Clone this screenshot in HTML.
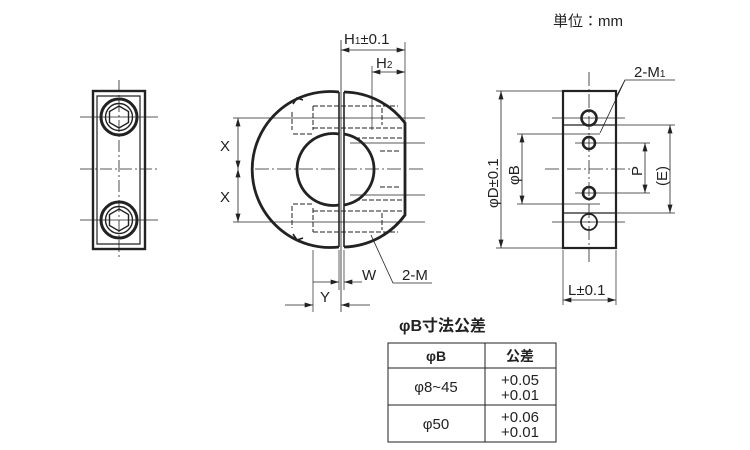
<!DOCTYPE html>
<html><head><meta charset="utf-8"><style>
html,body{margin:0;padding:0;background:#fff;}
svg{display:block;}
text{font-family:"Liberation Sans","Noto Sans CJK JP",sans-serif;fill:#222;}
</style></head><body>
<svg width="750" height="450" viewBox="0 0 750 450" xmlns="http://www.w3.org/2000/svg">
<defs>
<marker id="a" viewBox="0 0 10 6" refX="10" refY="3" markerWidth="9" markerHeight="5" orient="auto-start-reverse" markerUnits="userSpaceOnUse"><path d="M0,0L10,3L0,6z" fill="#222"/></marker>
</defs>
<text x="553" y="26" font-size="15">単位：mm</text>

<!-- LEFT VIEW -->
<g stroke="#222" fill="none">
<line x1="80" y1="169" x2="158" y2="169" stroke-width="0.8" stroke-dasharray="12,3,2,3"/>
<line x1="119" y1="80" x2="119" y2="260" stroke-width="0.8" stroke-dasharray="12,3,2,3"/>
<line x1="80" y1="117" x2="158" y2="117" stroke-width="0.7"/>
<line x1="80" y1="220" x2="158" y2="220" stroke-width="0.7"/>
<rect x="93" y="91" width="52" height="158" stroke-width="2.4"/>
<path d="M97,244 V96 H140 V244 Z" stroke-width="1.2"/>
<circle cx="119" cy="117" r="18" stroke-width="3"/>
<circle cx="119" cy="117" r="13.5" stroke-width="1.4"/>
<polygon points="119,106 128.5,111.5 128.5,122.5 119,128 109.5,122.5 109.5,111.5" stroke-width="1.4"/>
<circle cx="119" cy="220" r="18" stroke-width="3"/>
<circle cx="119" cy="220" r="13.5" stroke-width="1.4"/>
<polygon points="119,209 128.5,214.5 128.5,225.5 119,231 109.5,225.5 109.5,214.5" stroke-width="1.4"/>
</g>

<!-- MIDDLE VIEW -->
<g stroke="#222" fill="none">
<line x1="255" y1="169" x2="425" y2="169" stroke-width="0.8" stroke-dasharray="14,3,2,3"/>
<line x1="341" y1="40" x2="341" y2="312" stroke-width="0.8"/>
<line x1="405" y1="42" x2="405" y2="122" stroke-width="0.7"/>
<line x1="372" y1="66" x2="372" y2="130" stroke-width="0.7"/>
<line x1="233" y1="118" x2="425" y2="118" stroke-width="0.7"/>
<line x1="233" y1="222" x2="425" y2="222" stroke-width="0.7"/>
<line x1="350" y1="143" x2="425" y2="143" stroke-width="0.7"/>
<line x1="350" y1="195" x2="425" y2="195" stroke-width="0.7"/>
<path d="M339,92 A78,78 0 1,0 339,247" stroke-width="2.8"/>
<path d="M344,92 A78,78 0 0,1 405,123 L405,215 A78,78 0 0,1 344,247" stroke-width="2.8"/>
<line x1="339" y1="92" x2="339" y2="247" stroke-width="1.6"/>
<line x1="344" y1="92" x2="344" y2="247" stroke-width="1.6"/>
<path d="M339,134 A36,36 0 1,0 339,205" stroke-width="2.8"/>
<path d="M344,134 A36,36 0 0,1 344,205" stroke-width="2.8"/>
<path d="M293,104 L297,98 L303,100" stroke-width="1.6"/>
<path d="M293,234 L297,240 L303,238" stroke-width="1.6"/>
<g stroke-width="1" stroke-dasharray="5,2">
<line x1="313" y1="106" x2="398" y2="106"/>
<line x1="313" y1="128" x2="403" y2="128"/>
<line x1="292" y1="112" x2="292" y2="130"/>
<line x1="313" y1="106" x2="313" y2="130"/>
<line x1="293" y1="134" x2="313" y2="134"/>
<line x1="355" y1="138" x2="405" y2="138"/>
<line x1="380" y1="151" x2="400" y2="151"/>
<line x1="380" y1="187" x2="400" y2="187"/>
<line x1="355" y1="200" x2="405" y2="200"/>
<line x1="313" y1="211" x2="403" y2="211"/>
<line x1="313" y1="232" x2="398" y2="232"/>
<line x1="292" y1="206" x2="292" y2="228"/>
<line x1="313" y1="208" x2="313" y2="232"/>
<line x1="293" y1="204" x2="313" y2="204"/>
<line x1="382" y1="108" x2="382" y2="125"/>
<line x1="382" y1="213" x2="382" y2="230"/>
</g>
<line x1="238" y1="118" x2="238" y2="169" stroke-width="0.8" marker-start="url(#a)" marker-end="url(#a)"/>
<line x1="238" y1="169" x2="238" y2="222" stroke-width="0.8" marker-start="url(#a)" marker-end="url(#a)"/>
<line x1="341" y1="50" x2="405" y2="50" stroke-width="0.8" marker-start="url(#a)" marker-end="url(#a)"/>
<line x1="372" y1="72" x2="405" y2="72" stroke-width="0.8" marker-start="url(#a)" marker-end="url(#a)"/>
<line x1="313" y1="250" x2="313" y2="312" stroke-width="0.7"/>
<line x1="339" y1="250" x2="339" y2="290" stroke-width="0.7"/>
<line x1="344" y1="250" x2="344" y2="290" stroke-width="0.7"/>
<line x1="285" y1="305" x2="313" y2="305" stroke-width="0.8" marker-end="url(#a)"/>
<line x1="370" y1="305" x2="341" y2="305" stroke-width="0.8" marker-end="url(#a)"/>
<line x1="313" y1="282" x2="339" y2="282" stroke-width="0.8" marker-end="url(#a)"/>
<line x1="362" y1="282" x2="344" y2="282" stroke-width="0.8" marker-end="url(#a)"/>
<polyline points="371,235 393,283 432,283" stroke-width="0.8"/>
</g>
<text x="220" y="151" font-size="15">X</text>
<text x="220" y="202" font-size="15">X</text>
<text x="344" y="44" font-size="15">H<tspan font-size="10">1</tspan>±0.1</text>
<text x="376" y="68" font-size="15">H<tspan font-size="10">2</tspan></text>
<text x="362" y="280" font-size="15">W</text>
<text x="402" y="280" font-size="15">2-M</text>
<text x="320" y="302" font-size="15">Y</text>

<!-- RIGHT VIEW -->
<g stroke="#222" fill="none">
<line x1="589" y1="72" x2="589" y2="265" stroke-width="0.8" stroke-dasharray="14,3,2,3"/>
<line x1="545" y1="169" x2="630" y2="169" stroke-width="0.7" stroke-dasharray="14,3,2,3"/>
<line x1="552" y1="118" x2="625" y2="118" stroke-width="0.7"/>
<line x1="552" y1="222" x2="625" y2="222" stroke-width="0.7"/>
<line x1="575" y1="143" x2="650" y2="143" stroke-width="0.7"/>
<line x1="575" y1="193" x2="650" y2="193" stroke-width="0.7"/>
<line x1="616" y1="125" x2="675" y2="125" stroke-width="0.7"/>
<line x1="616" y1="213" x2="675" y2="213" stroke-width="0.7"/>
<line x1="517" y1="134" x2="600" y2="134" stroke-width="0.7"/>
<line x1="517" y1="204" x2="600" y2="204" stroke-width="0.7"/>
<line x1="496" y1="91" x2="563" y2="91" stroke-width="0.7"/>
<line x1="496" y1="248" x2="563" y2="248" stroke-width="0.7"/>
<rect x="563" y="91" width="53" height="157" stroke-width="2.2"/>
<line x1="563" y1="125" x2="616" y2="125" stroke-width="1.2"/>
<line x1="563" y1="213" x2="616" y2="213" stroke-width="1.2"/>
<circle cx="589" cy="118" r="7.5" stroke-width="2.6"/>
<circle cx="589" cy="143" r="6" stroke-width="2.6"/>
<circle cx="589" cy="193" r="6" stroke-width="2.6"/>
<circle cx="589" cy="222" r="8" stroke-width="1.8"/>
<line x1="563" y1="250" x2="563" y2="305" stroke-width="0.7"/>
<line x1="616" y1="250" x2="616" y2="305" stroke-width="0.7"/>
<line x1="563" y1="300" x2="616" y2="300" stroke-width="0.8" marker-start="url(#a)" marker-end="url(#a)"/>
<line x1="501" y1="91" x2="501" y2="248" stroke-width="0.8" marker-start="url(#a)" marker-end="url(#a)"/>
<line x1="522" y1="134" x2="522" y2="204" stroke-width="0.8" marker-start="url(#a)" marker-end="url(#a)"/>
<line x1="645" y1="143" x2="645" y2="193" stroke-width="0.8" marker-start="url(#a)" marker-end="url(#a)"/>
<line x1="670" y1="125" x2="670" y2="213" stroke-width="0.8" marker-start="url(#a)" marker-end="url(#a)"/>
<polyline points="675,80 625,80 600,133" stroke-width="0.8"/>
<line x1="625" y1="80" x2="616" y2="97" stroke-width="0.8"/>
</g>
<text x="634" y="77" font-size="15">2-M<tspan font-size="10">1</tspan></text>
<text x="568" y="295" font-size="15">L±0.1</text>
<text transform="translate(498,208) rotate(-90)" font-size="15">φD±0.1</text>
<text transform="translate(519,185) rotate(-90)" font-size="15">φB</text>
<text transform="translate(642,176) rotate(-90)" font-size="15">P</text>
<text transform="translate(667,186) rotate(-90)" font-size="15">(E)</text>

<!-- TABLE -->
<text x="399" y="331" font-size="16" font-weight="bold">φB寸法公差</text>
<g stroke="#222" fill="none" stroke-width="1">
<rect x="388" y="343" width="168" height="99"/>
<line x1="485" y1="343" x2="485" y2="442"/>
<line x1="388" y1="368" x2="556" y2="368"/>
<line x1="388" y1="405" x2="556" y2="405"/>
</g>
<text x="436" y="361" font-size="14" font-weight="bold" text-anchor="middle">φB</text>
<text x="520" y="361" font-size="14" font-weight="bold" text-anchor="middle">公差</text>
<text x="436" y="392" font-size="15" text-anchor="middle">φ8~45</text>
<text x="520" y="385" font-size="15" text-anchor="middle">+0.05</text>
<text x="520" y="400" font-size="15" text-anchor="middle">+0.01</text>
<text x="436" y="429" font-size="15" text-anchor="middle">φ50</text>
<text x="520" y="422" font-size="15" text-anchor="middle">+0.06</text>
<text x="520" y="437" font-size="15" text-anchor="middle">+0.01</text>
</svg>
</body></html>
